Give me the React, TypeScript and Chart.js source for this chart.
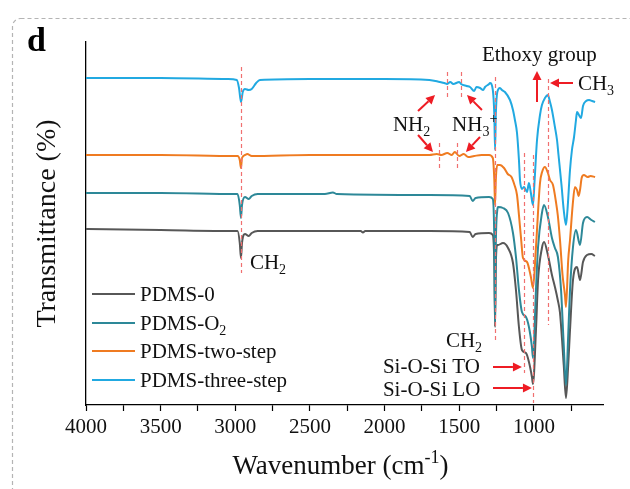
import React, { useEffect, useRef } from 'react';
import { Chart, registerables } from 'chart.js';
Chart.register(...registerables);

const SERIF = "'Liberation Serif', 'Times New Roman', serif";

// Series names ("_" = subscript)
const SERIES_LABELS = ['PDMS-0', 'PDMS-O_2', 'PDMS-two-step', 'PDMS-three-step'];
const SERIES_COLORS = ['#575757', '#2d8898', '#ef7b21', '#21a9e1'];

// X axis (wavenumber, cm-1)
const X_MAX = 4000;
const X_MIN = 537;
const X_MAJOR = [4000, 3500, 3000, 2500, 2000, 1500, 1000];
const X_MINOR = [3750, 3250, 2750, 2250, 1750, 1250, 750];
const Y_MIN = 0;
const Y_MAX = 363;

// PDMS-0
const pdms0Wn = [4000, 3500, 3000, 2985, 2970, 2962, 2955, 2935, 2910, 2890, 2850, 2500, 2160, 2145, 2130, 1700, 1430, 1410, 1390, 1300, 1275, 1265, 1260, 1255, 1245, 1240, 1207, 1173, 1140, 1120, 1100, 1080, 1053, 1033, 1013, 1006, 986, 972, 946, 932, 906, 879, 859, 840, 825, 800, 785, 770, 758, 738, 711, 691, 671, 644, 615, 591];
const pdms0T = [176, 175, 174, 174, 162, 147, 162, 171, 169, 172, 174, 174, 174, 172.5, 174, 174, 173, 168, 171, 172, 170, 140, 78, 140, 160, 160, 162, 157, 142, 115, 78, 55, 52, 43, 28, 21, 75, 125, 157, 163, 150, 130, 118, 105, 92, 40, 7, 40, 75, 125, 138, 125, 143, 150, 151, 149];

// PDMS-O2
const pdmsO2Wn = [4000, 3500, 3000, 2985, 2970, 2962, 2955, 2935, 2910, 2890, 2850, 2400, 2346, 2320, 1700, 1430, 1410, 1390, 1300, 1275, 1265, 1260, 1255, 1245, 1240, 1207, 1173, 1140, 1120, 1100, 1080, 1053, 1033, 1013, 1006, 986, 972, 946, 932, 906, 879, 859, 839, 818, 800, 785, 770, 758, 738, 718, 691, 671, 644, 615, 591];
const pdmsO2T = [212, 212, 211, 211, 200, 187, 200, 208, 206, 209, 211, 211, 212.5, 211, 210, 209, 204, 207, 208, 206, 165, 83, 160, 195, 198, 197, 192, 172, 148, 115, 93, 88, 78, 58, 47, 115, 158, 192, 200, 188, 167, 157, 148, 115, 60, 20, 70, 115, 158, 175, 160, 182, 188, 185, 183];

// PDMS-two-step
const pdmsTwoWn = [4000, 3500, 3000, 2985, 2970, 2962, 2955, 2935, 2920, 2890, 2500, 2000, 1700, 1650, 1620, 1580, 1550, 1530, 1500, 1470, 1440, 1400, 1350, 1300, 1275, 1265, 1260, 1255, 1245, 1227, 1200, 1175, 1150, 1130, 1113, 1100, 1085, 1073, 1046, 1020, 1006, 986, 959, 945, 926, 906, 892, 872, 852, 840, 825, 808, 792, 785, 770, 758, 740, 725, 711, 700, 691, 680, 665, 640, 620, 590];
const pdmsTwoT = [250, 250, 249, 249, 245, 237, 247, 250, 251, 249, 250, 250, 250, 251, 250, 252, 250, 253, 249, 251, 248, 249, 250, 250, 247, 225, 200, 225, 240, 240, 237, 231, 228, 220, 210, 190, 165, 147, 143, 128, 117, 158, 222, 233, 238, 232, 225, 220, 203, 190, 165, 130, 110, 98, 145, 165, 200, 218, 215, 209, 215, 227, 230, 228, 229, 228];

// PDMS-three-step
const pdmsThreeWn = [4000, 3500, 3050, 2990, 2975, 2962, 2950, 2935, 2910, 2890, 2860, 2835, 2500, 2000, 1700, 1630, 1600, 1582, 1560, 1540, 1500, 1488, 1450, 1428, 1400, 1385, 1360, 1340, 1327, 1300, 1294, 1275, 1265, 1260, 1255, 1245, 1227, 1214, 1194, 1160, 1140, 1127, 1113, 1100, 1093, 1080, 1066, 1046, 1033, 1020, 1006, 995, 979, 959, 946, 926, 906, 892, 879, 859, 845, 835, 815, 800, 785, 775, 758, 745, 731, 718, 711, 698, 684, 671, 650, 630, 610, 590];
const pdmsThreeT = [327, 327, 326, 325, 317, 303, 313, 316, 315, 316, 322, 325, 326, 326, 325, 323, 322, 321, 323, 321, 323, 321, 319, 318, 314, 318, 317, 315, 318, 321, 322, 315, 290, 255, 290, 313, 317, 315, 313, 305, 295, 285, 272, 245, 225, 216, 218, 213, 222, 212, 200, 225, 265, 290, 300, 307, 310, 303, 295, 278, 265, 250, 220, 195, 180, 195, 235, 255, 268, 285, 293, 290, 287, 299, 304, 305, 304, 303];

// Annotation marks: dashed guide lines [wavenumber, from, to]
const GUIDE_LINES = [
  [2965, 338, 132],
  [1582, 333, 307],
  [1488, 333, 307],
  [1635, 262, 235],
  [1512, 262, 235],
  [1261, 328, 62],
  [1066, 252, 32],
  [1006, 250, 2],
  [906, 326, 80],
];
// Arrows [wn1, v1, wn2(tip), v2(tip)]
const ARROWS = [
  [979, 303, 979, 334],
  [738, 322, 892, 322],
  [1776, 294, 1662, 310],
  [1776, 270, 1676, 253],
  [1348, 295, 1448, 310],
  [1361, 268, 1455, 253],
  [1274, 38, 1080, 38],
  [1274, 17, 1013, 17],
];
// Labels [text, wn, v, align]
const LABELS: [string, number, number, 'left' | 'center'][] = [
  ['Ethoxy group', 963, 351, 'center'],
  ['CH_3', 705, 322, 'left'],
  ['NH_2', 1944, 281, 'left'],
  ['NH_3^+', 1548, 281, 'left'],
  ['CH_2', 1589, 65, 'left'],
  ['Si-O-Si TO', 2011, 39, 'left'],
  ['Si-O-Si LO', 2011, 16, 'left'],
  ['CH_2', 2902, 143, 'left'],
];

type Part = { t: string; k: 'n' | 'sub' | 'sup' };
function parseRich(s: string): Part[] {
  const out: Part[] = [];
  let buf = '';
  for (let i = 0; i < s.length; i++) {
    const c = s[i];
    if (c === '_' || c === '^') {
      if (buf) { out.push({ t: buf, k: 'n' }); buf = ''; }
      let t = '';
      if (s[i + 1] === '{') { const j = s.indexOf('}', i + 2); t = s.slice(i + 2, j); i = j; }
      else { t = s[i + 1]; i++; }
      out.push({ t, k: c === '_' ? 'sub' : 'sup' });
    } else buf += c;
  }
  if (buf) out.push({ t: buf, k: 'n' });
  return out;
}

function drawRich(ctx: CanvasRenderingContext2D, s: string, x: number, y: number, size: number, align: 'left' | 'center', color = '#111') {
  const parts = parseRich(s);
  const fontFor = (k: string) => `${k === 'n' ? size : Math.round(size * 0.68)}px ${SERIF}`;
  let w = 0;
  for (const p of parts) { ctx.font = fontFor(p.k); w += ctx.measureText(p.t).width; }
  let cx = align === 'center' ? x - w / 2 : x;
  const base = y + size * 0.33;
  ctx.textBaseline = 'alphabetic';
  ctx.textAlign = 'left';
  ctx.fillStyle = color;
  for (const p of parts) {
    ctx.font = fontFor(p.k);
    const dy = p.k === 'sub' ? size * 0.22 : p.k === 'sup' ? -size * 0.4 : 0;
    ctx.fillText(p.t, cx, base + dy);
    cx += ctx.measureText(p.t).width;
  }
}

function drawArrow(ctx: CanvasRenderingContext2D, x1: number, y1: number, x2: number, y2: number, color: string) {
  const ang = Math.atan2(y2 - y1, x2 - x1);
  const hl = 9, hw = 4.5;
  const bx = x2 - Math.cos(ang) * hl, by = y2 - Math.sin(ang) * hl;
  ctx.strokeStyle = color;
  ctx.lineWidth = 2;
  ctx.setLineDash([]);
  ctx.beginPath();
  ctx.moveTo(x1, y1);
  ctx.lineTo(bx, by);
  ctx.stroke();
  ctx.fillStyle = color;
  ctx.beginPath();
  ctx.moveTo(x2, y2);
  ctx.lineTo(bx + Math.sin(ang) * hw, by - Math.cos(ang) * hw);
  ctx.lineTo(bx - Math.sin(ang) * hw, by + Math.cos(ang) * hw);
  ctx.closePath();
  ctx.fill();
}

const decorPlugin = {
  id: 'decor',
  afterDatasetsDraw(chart: any) {
    const ctx: CanvasRenderingContext2D = chart.ctx;
    const xs = chart.scales.x, ys = chart.scales.y;
    ctx.save();
    // dashed guides
    ctx.strokeStyle = '#f07070';
    ctx.lineWidth = 1.2;
    ctx.setLineDash([4, 3]);
    for (const [wn, a, b] of GUIDE_LINES) {
      const x = Math.round(xs.getPixelForValue(wn)) + 0.5;
      ctx.beginPath();
      ctx.moveTo(x, ys.getPixelForValue(a));
      ctx.lineTo(x, ys.getPixelForValue(b));
      ctx.stroke();
    }
    for (const [w1, v1, w2, v2] of ARROWS) {
      drawArrow(ctx, xs.getPixelForValue(w1), ys.getPixelForValue(v1), xs.getPixelForValue(w2), ys.getPixelForValue(v2), '#ee1c24');
    }
    for (const [t, wn, v, al] of LABELS) {
      drawRich(ctx, t, xs.getPixelForValue(wn), ys.getPixelForValue(v), 21, al);
    }
    ctx.restore();
  },
  afterDraw(chart: any) {
    const ctx: CanvasRenderingContext2D = chart.ctx;
    const ca = chart.chartArea;
    ctx.save();
    // outer dashed frame
    ctx.strokeStyle = '#b4b4b4';
    ctx.lineWidth = 1.2;
    ctx.setLineDash([4, 3]);
    ctx.beginPath();
    (ctx as any).roundRect(12.5, 18.5, 650, 520, 8);
    ctx.stroke();
    ctx.setLineDash([]);
    // panel letter
    ctx.fillStyle = '#000';
    ctx.font = `bold 34px ${SERIF}`;
    ctx.textBaseline = 'alphabetic';
    ctx.textAlign = 'left';
    ctx.fillText('d', 27, 51);
    // x title
    drawRich(ctx, 'Wavenumber (cm^{-1})', (ca.left + ca.right) / 2 - 4, 465, 27, 'center', '#111');
    // legend
    const rows = [294, 323, 351, 380];
    SERIES_LABELS.forEach((lab, i) => {
      ctx.strokeStyle = SERIES_COLORS[i];
      ctx.lineWidth = 2.2;
      ctx.beginPath();
      ctx.moveTo(92, rows[i]);
      ctx.lineTo(135, rows[i]);
      ctx.stroke();
      drawRich(ctx, lab, 140, rows[i], 21, 'left', '#111');
    });
    ctx.restore();
  },
};

export default function App() {
  const ref = useRef<HTMLCanvasElement>(null);
  useEffect(() => {
    const mk = (wn: number[], t: number[]) => wn.map((x, i) => ({ x, y: t[i] }));
    const all = [mk(pdms0Wn, pdms0T), mk(pdmsO2Wn, pdmsO2T), mk(pdmsTwoWn, pdmsTwoT), mk(pdmsThreeWn, pdmsThreeT)];
    const chart = new Chart(ref.current as HTMLCanvasElement, {
      type: 'line',
      data: {
        datasets: all.map((d, i) => ({
          label: SERIES_LABELS[i],
          data: d,
          borderColor: SERIES_COLORS[i],
          backgroundColor: SERIES_COLORS[i],
          borderWidth: 2,
          pointRadius: 0,
          cubicInterpolationMode: 'monotone' as const,
          order: 4 - i,
        })),
      },
      options: {
        animation: false,
        responsive: false,
        maintainAspectRatio: false,
        layout: { padding: { left: 0, right: 27, top: 42, bottom: 0 } },
        plugins: { legend: { display: false }, tooltip: { enabled: false } },
        scales: {
          x: {
            type: 'linear',
            reverse: true,
            min: X_MIN,
            max: X_MAX,
            afterBuildTicks: (s: any) => {
              s.ticks = [...X_MAJOR, ...X_MINOR].sort((a, b) => b - a).map((v) => ({ value: v }));
            },
            afterFit: (s: any) => { s.height = 84; },
            grid: { display: true, drawOnChartArea: false, drawTicks: true, tickLength: 6, tickColor: '#000', tickWidth: 1.2 },
            border: { display: true, color: '#000', width: 1.3 },
            ticks: {
              color: '#111',
              font: { family: SERIF, size: 21 },
              padding: 4,
              maxRotation: 0,
              autoSkip: false,
              callback: (v: any) => (X_MAJOR.includes(Number(v)) ? String(v) : ''),
            },
          },
          y: {
            min: Y_MIN,
            max: Y_MAX,
            afterFit: (s: any) => { s.width = 86; },
            grid: { display: false },
            border: { display: true, color: '#000', width: 1.3 },
            ticks: { display: false },
            title: { display: true, text: 'Transmittance (%)', color: '#111', font: { family: SERIF, size: 28 }, padding: { top: 31, bottom: 0 } },
          },
        },
      },
      plugins: [decorPlugin],
    } as any);
    return () => chart.destroy();
  }, []);
  return (
    <div style={{ position: 'fixed', left: 0, top: 0, width: 630, height: 489, background: '#fff' }}>
      <canvas ref={ref} width={630} height={489} style={{ display: 'block', width: 630, height: 489 }} />
    </div>
  );
}
